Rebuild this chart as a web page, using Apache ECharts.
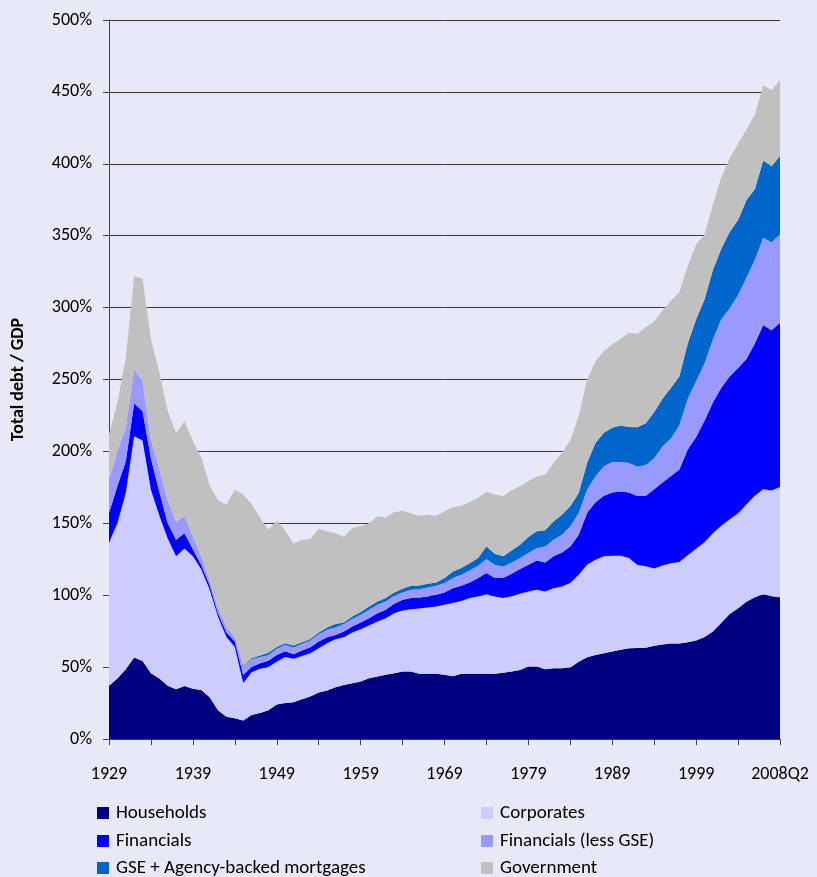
<!DOCTYPE html>
<html>
<head>
<meta charset="utf-8">
<title>Total debt / GDP</title>
<script src="https://cdn.jsdelivr.net/npm/echarts@6/dist/echarts.min.js"></script>
<style>
  html, body { margin: 0; padding: 0; background: #E7EAF6; }
  #chart { width: 817px; height: 877px; }
</style>
</head>
<body>
<div id="chart"></div>
<script>
// categories: 1929..2007 yearly, then two quarters of 2008
const years = []
for (let y = 1929; y <= 2007; y++) years.push(String(y))
years.push('2008Q1', '2008Q2')

// % of GDP, each layer's own thickness (stacked bottom to top)
const households = [
  37, 42, 48.5, 56.6, 54.3, 45.7, 42, 37, 34.6, 36.9,
  35, 34, 29, 20, 15.5, 14.4, 12.8, 16.7, 18, 20,
  24, 25, 25.5, 27.6, 29.5, 32.3, 33.7, 36, 37.6, 38.8,
  39.9, 42.2, 43.4, 44.6, 45.7, 46.9, 47, 45.3, 45.3, 45.3,
  44.6, 43.7, 45.3, 45.3, 45.3, 45.3, 45.3, 46, 47, 48,
  50.4, 50.4, 48.5, 49.2, 49.2, 49.7, 53.8, 56.9, 58.5, 59.7,
  60.8, 62, 63.1, 63.2, 63.5, 64.8, 65.7, 66.4, 66.4, 67.3,
  68.5, 71, 74.7, 80.8, 86.9, 90.9, 95.5, 98.6, 100.7, 99.2,
  98.6
]
const corporates = [
  99.5, 108, 122.5, 153.9, 153.2, 127.7, 113.5, 102.5, 92.4, 95.6,
  92, 84, 75, 65, 55.5, 49.6, 26.2, 29.8, 30.8, 30,
  29.8, 32, 30.3, 30.2, 30.2, 30.8, 32.9, 33.4, 33.2, 35.2,
  36.5, 36.7, 38.3, 39.4, 41.8, 42.5, 43.3, 45.4, 46.2, 46.9,
  48.7, 50.8, 50.7, 52.7, 53.8, 55.4, 53.8, 52, 52.3, 53,
  52.2, 53.4, 54.1, 55.7, 56.9, 58.7, 60.4, 64.3, 66.2, 67.3,
  66.6, 65.4, 62.7, 57.8, 56.6, 53.7, 55, 55.8, 56.7, 60.4,
  63.8, 65.9, 68.3, 67.5, 66, 66, 67.5, 70.5, 73, 73.6,
  76.7
]
const financials = [
  20.5, 26, 22, 23, 20.5, 21.6, 16.5, 10.5, 11.6, 10.5,
  5, 3, 3, 2.5, 3, 3.8, 5.5, 3.5, 3.9, 4.5,
  4.7, 4, 3.2, 3.7, 4.1, 4.7, 4.2, 3, 3.9, 4.2,
  4.6, 5.1, 5.8, 5.8, 6.5, 7.4, 7.7, 7.7, 7.6, 8.1,
  8.6, 10.4, 10.5, 10.9, 12.8, 14.7, 12.8, 14, 15.7, 17.2,
  18.6, 20.4, 20.2, 22.1, 23.6, 25.5, 27.8, 36, 39.9, 42.2,
  44.1, 44.8, 45.7, 48, 49, 55.2, 57.6, 60.7, 64.4, 73.6,
  77.7, 84.4, 91, 96, 99.1, 101.1, 101.2, 105.9, 114.2, 111.4,
  114.1
]
const financialsLessGse = [
  23, 24, 23.5, 23.5, 21, 13, 16, 16, 12.4, 12,
  9, 6, 3, 3.5, 4, 3.2, 6.5, 5.5, 4.1, 4,
  4.3, 4.5, 4.7, 4.7, 4.7, 5.1, 5.1, 5.1, 5.2, 5.2,
  5.4, 5.8, 5.8, 5.8, 5.6, 5.1, 5.8, 5.8, 6.3, 6.2,
  6.5, 7, 7.7, 8.3, 8.6, 9.7, 9.3, 8, 7.5, 7.6,
  8.1, 8.6, 11.1, 11.6, 12.3, 14, 15.2, 16.2, 18.1, 20.4,
  21.2, 20.5, 20.5, 20.4, 21.4, 21.5, 25.2, 26.1, 30.7, 35.3,
  38.9, 39.8, 44, 47.6, 47.5, 50.7, 56.8, 58.3, 60.7, 61.3,
  61.6
]
const gseAgency = [
  0, 0, 0, 0, 0, 0, 0, 0, 0, 0,
  0, 0, 0, 0, 0, 0, 0.3, 0.7, 1.2, 1.5,
  1.2, 1.1, 1.3, 1.1, 1.1, 1.1, 1.6, 2.4, 1.1, 1.8,
  2, 2.4, 2.3, 2.4, 2.3, 2.6, 2.7, 2.6, 2.5, 2.4,
  3.5, 4.6, 4.7, 5.1, 5.3, 8.8, 7.6, 7, 8.5, 9.3,
  11.1, 11.6, 11.2, 12.7, 14, 13.9, 13.9, 18.6, 23.2, 23.3,
  23.7, 25.3, 25, 27.4, 29, 32.2, 33.1, 35.3, 33.8, 38.4,
  43, 44.5, 48.2, 49, 53.1, 52.2, 53.7, 49, 53.7, 52.8,
  54.4
]
const government = [
  32, 34, 48.5, 65, 71, 70, 67, 62, 62, 66,
  66, 69, 66.5, 75, 85, 102.4, 118.7, 107.3, 96, 85.5,
  88, 78.4, 71, 71.3, 69.4, 72, 66.9, 63.1, 59.4, 61.5,
  59.6, 57.8, 59.2, 56, 55.7, 54.3, 50.5, 48.5, 48.1, 46.4,
  46.4, 44.8, 43.1, 42.7, 41.8, 38.1, 41.2, 41.8, 42, 40.6,
  38.8, 38.3, 38.7, 40.7, 43, 46.2, 53.4, 58, 56.8, 56.8,
  58, 60.3, 65.5, 65, 66.8, 62.9, 61.4, 60.4, 58.9, 53.7,
  52.1, 45.2, 45.4, 49.8, 51.2, 53, 49, 52.2, 52.2, 53.1,
  52.7
]

const yTicks = [0, 50, 100, 150, 200, 250, 300, 350, 400, 450, 500]

const layers = [
  { name: 'Households', data: households, color: '#000080' },
  { name: 'Corporates', data: corporates, color: '#CCCCFF' },
  { name: 'Financials', data: financials, color: '#0000FF' },
  { name: 'Financials (less GSE)', data: financialsLessGse, color: '#9999FF' },
  { name: 'GSE + Agency-backed mortgages', data: gseAgency, color: '#0066CC' },
  { name: 'Government', data: government, color: '#C0C0C0' },
]

const font = 'Carlito, Calibri, Lato, sans-serif'
const chart = echarts.init(document.getElementById('chart'))

// legend is 2 columns x 3 rows; one legend box per entry so nothing wraps
const legendCols = [97, 481]
const legendRows = [803, 831, 858]
const legends = layers.map((l, i) => ({
  left: legendCols[i % 2],
  top: legendRows[Math.floor(i / 2)],
  padding: 0,
  icon: 'rect',
  itemWidth: 12,
  itemHeight: 12,
  selectedMode: false,
  data: [l.name],
  textStyle: { fontFamily: font, fontSize: 19, color: '#000', lineHeight: 20, padding: [0, 0, 0, 2] },
}))

chart.setOption({
  backgroundColor: '#E7EAF6',
  animation: false,
  grid: { left: 109, right: 37, top: 20, bottom: 138 },
  legend: legends,
  xAxis: {
    type: 'category',
    data: years,
    boundaryGap: false,
    axisLine: { lineStyle: { color: '#404040', width: 1 } },
    axisTick: {
      length: 6,
      interval: (i) => i % 5 === 0,
      lineStyle: { color: '#404040' },
    },
    axisLabel: {
      interval: (i) => i % 10 === 0,
      margin: 26,
      fontFamily: font,
      fontSize: 18,
      color: '#000',
    },
    splitLine: { show: false },
  },
  yAxis: {
    type: 'value',
    min: yTicks[0],
    max: yTicks[yTicks.length - 1],
    interval: 50,
    name: 'Total debt / GDP',
    nameLocation: 'middle',
    nameGap: 82,
    nameTextStyle: { fontFamily: font, fontSize: 18, fontWeight: 'bold', color: '#000' },
    axisLine: { show: true, lineStyle: { color: '#404040', width: 1 } },
    axisTick: { show: true, length: 6, lineStyle: { color: '#404040' } },
    axisLabel: {
      formatter: '{value}%',
      margin: 17,
      fontFamily: font,
      fontSize: 18,
      color: '#000',
    },
    splitLine: { show: true, lineStyle: { color: '#3a3a3a', width: 1 } },
  },
  series: layers.map((l) => ({
    name: l.name,
    type: 'line',
    stack: 'debt',
    data: l.data,
    symbol: 'none',
    showSymbol: false,
    lineStyle: { width: 0 },
    itemStyle: { color: l.color },
    areaStyle: { color: l.color, opacity: 1 },
  })),
})
</script>
</body>
</html>
